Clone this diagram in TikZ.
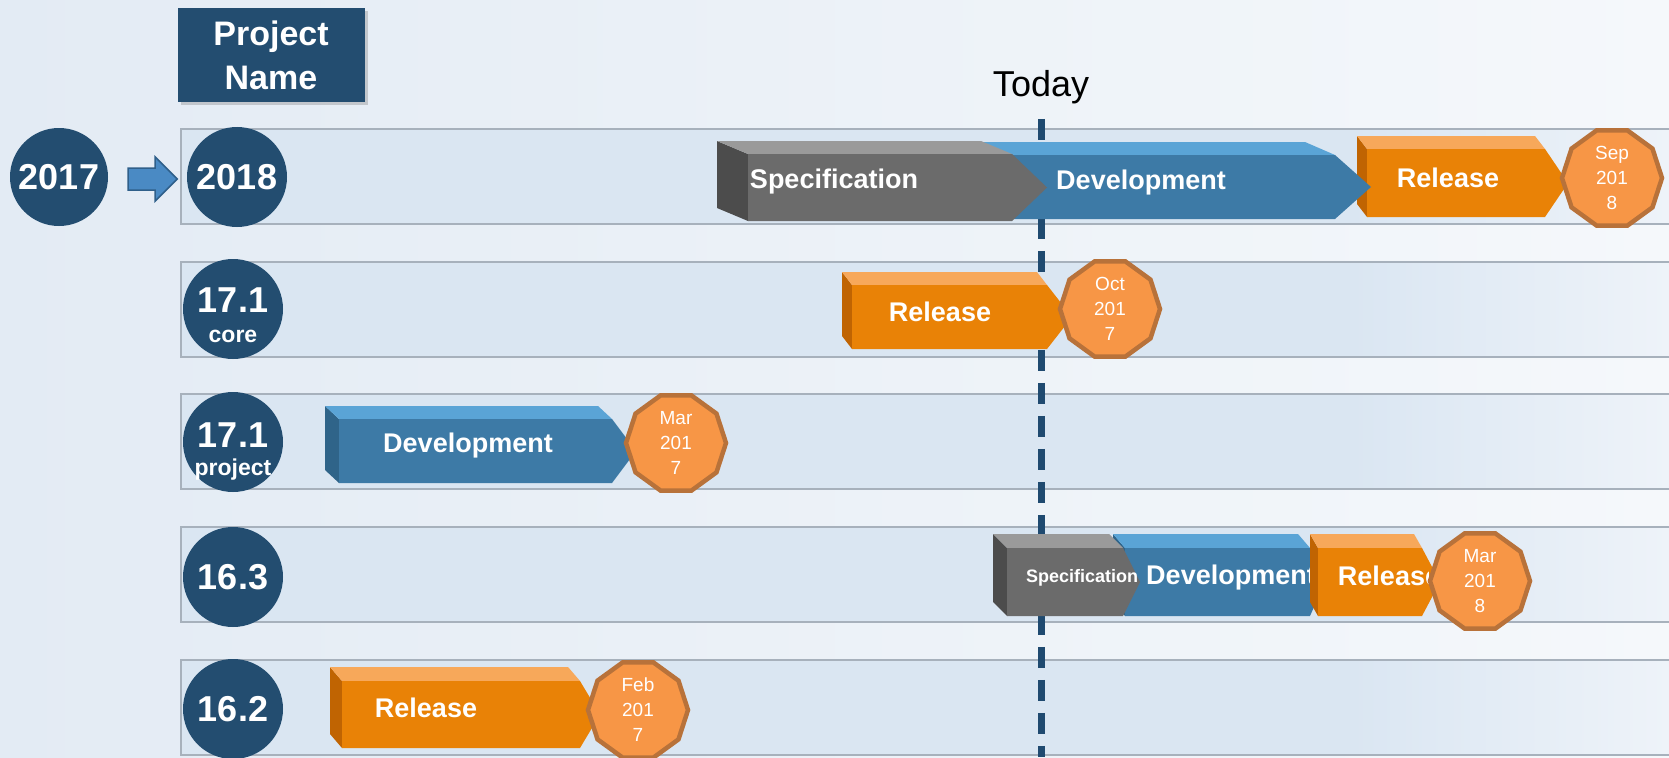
\documentclass[tikz,border=0pt]{standalone}
\usepackage{fontspec}
\setmainfont{Liberation Sans}
\usetikzlibrary{shapes.geometric, shadows, calc}

\definecolor{bgleft}{HTML}{E3EBF4}
\definecolor{bgright}{HTML}{F5F8FB}
\definecolor{bandfill}{HTML}{DAE6F2}
\definecolor{bandfade}{HTML}{EEF3F9}
\definecolor{bandedge}{HTML}{A7B1BC}
\definecolor{navy}{HTML}{234D70}
\definecolor{todayblue}{HTML}{1F4A70}
\definecolor{arrowfill}{HTML}{4A8AC4}
\definecolor{arrowedge}{HTML}{2F5F8A}
\definecolor{datefill}{HTML}{F79646}
\definecolor{dateedge}{HTML}{B8723A}
\definecolor{spectop}{HTML}{9A9A9A}
\definecolor{specfront}{HTML}{6B6B6B}
\definecolor{specside}{HTML}{4C4C4C}
\definecolor{devtop}{HTML}{5AA4D6}
\definecolor{devfront}{HTML}{3D7AA6}
\definecolor{devside}{HTML}{2F6489}
\definecolor{reltop}{HTML}{F7A85A}
\definecolor{relfront}{HTML}{E98206}
\definecolor{relside}{HTML}{C06402}

% 3D phase bar: colour, front left, point start, tip, top, bottom, dx, dy, name
\newcommand{\phasebar}[9]{%
  \fill[#1side] (#2-#7,#5-#8) -- (#2,#5) -- (#2,#6) -- (#2-#7,#6-#8) -- cycle;
  \fill[#1top] (#2-#7,#5-#8) -- (#3-#7,#5-#8) -- (#3,#5) -- (#2,#5) -- cycle;
  \fill[#1front] (#2,#5) -- (#3,#5) -- (#4,{(#5+#6)/2}) -- (#3,#6) -- (#2,#6) -- cycle;
  \coordinate (#9) at ({(#2+#3)/2},{(#5+#6)/2});
}

\begin{document}
\begin{tikzpicture}[x=1pt, y=-1pt,
    yearcirc/.style={circle, fill=navy, minimum size=100pt, inner sep=0pt, text=white,
      font=\bfseries\fontsize{36}{40}\selectfont},
    subtext/.style={inner sep=0pt, text=white, font=\bfseries\fontsize{23}{26}\selectfont},
    mainnum/.style={inner sep=0pt, text=white, font=\bfseries\fontsize{36}{40}\selectfont},
    duedate/.style={regular polygon, regular polygon sides=10, minimum size=100pt, inner sep=0pt,
      fill=datefill, draw=dateedge, line width=4.5pt, text=white, align=center,
      font=\fontsize{19}{25}\selectfont},
    barlabel/.style={inner sep=0pt, text=white, font=\bfseries\fontsize{27}{30}\selectfont},
    todayline/.style={todayblue, line width=7pt, dash pattern=on 21pt off 12pt},
    yeararrow/.style={fill=arrowfill, draw=arrowedge, line width=1.5pt, line join=miter}]
    % Background
    \clip (0,0) rectangle (1669,757);
    \shade[left color=bgleft, right color=bgright] (0,0) rectangle (1669,757);
    % Rows
    \foreach \y in {129,262,394,527,660} {
      \fill[bandfill] (181,\y) rectangle (1350,\y+95);
      \shade[left color=bandfill, right color=bandfade] (1350,\y) rectangle (1669,\y+95);
      \draw[bandedge, line width=1.5pt] (1669,\y) -- (181,\y) -- (181,\y+95) -- (1669,\y+95);
    }
    % Today marker
    \node[inner sep=0pt, font=\fontsize{36}{40}\selectfont] (today) at (1041,87) {Today};
    \coordinate (todayend) at (1040,757);
    \draw[todayline] ([yshift=-15pt]today.south) -- (today.south |- todayend);
    % Header
    \node[fill=navy, text=white, align=center, inner sep=0pt, minimum width=187pt, minimum height=94pt,
      font=\bfseries\fontsize{34}{44}\selectfont,
      drop shadow={opacity=0.35, shadow xshift=3pt, shadow yshift=-3pt}] (pname) at (271,55) {Project\\Name};
    % Year circles
    \node[yearcirc, minimum size=98pt] (y2017) at (59,177) {2017};
    \node[yearcirc] (y2018) at (237,177) {2018};
    \coordinate (shiftstart) at ($(y2017.east)+(20,2)$);
    \draw[yeararrow] (shiftstart) -- ++(0,-11) -- ++(27,0) -- ++(0,-11) -- ++(22,22)
      -- ++(-22,22) -- ++(0,-11) -- ++(-27,0) -- cycle;
    \node[yearcirc] (v171c) at (233,309) {};
    \node[mainnum] (v171cnum) at ($(v171c)+(0,-9)$) {17.1};
    \node[subtext] (v171ctag) at ($(v171c)+(0,27)$) {core};
    \node[yearcirc] (v171p) at (233,442) {};
    \node[mainnum] (v171pnum) at ($(v171p)+(0,-7)$) {17.1};
    \node[subtext] (v171ptag) at ($(v171p)+(0,28)$) {project};
    \node[yearcirc] (v163) at (233,577) {16.3};
    \node[yearcirc] (v162) at (233,709) {16.2};
    % Row 2018
    \phasebar{rel}{1367}{1545}{1568}{149}{217}{10}{13}{r1rel}
    \node[barlabel] (r1reltext) at (1448,178) {Release};
    \phasebar{dev}{995}{1335}{1371}{155}{219}{30}{13}{r1dev}
    \node[barlabel] (r1devtext) at (1141,183) {Development};
    \phasebar{spec}{748}{1012}{1047}{154}{221}{31}{13}{r1spec}
    \node[barlabel] (r1spectext) at (834,182) {Specification};
    \node[duedate] (due1) at (1612,178) {Sep\\201\\8};
    % Row 17.1 core
    \phasebar{rel}{852}{1047}{1072}{285}{349}{10}{13}{r2rel}
    \node[barlabel] (r2reltext) at (940,312) {Release};
    \node[duedate] (due2) at (1110,309) {Oct\\201\\7};
    % Row 17.1 project
    \phasebar{dev}{339}{612}{636}{419}{483}{14}{13}{r3dev}
    \node[barlabel] (r3devtext) at (468,446) {Development};
    \node[duedate] (due3) at (676,443) {Mar\\201\\7};
    % Row 16.3
    \phasebar{dev}{1125}{1310}{1325}{548}{616}{12}{14}{r4dev}
    \node[barlabel] (r4devtext) at (1231,578) {Development};
    \phasebar{spec}{1007}{1123}{1140}{548}{616}{14}{14}{r4spec}
    \node[barlabel, font=\bfseries\fontsize{18}{20}\selectfont] (r4spectext) at (1082,578) {Specification};
    \phasebar{rel}{1318}{1422}{1440}{548}{616}{8}{14}{r4rel}
    \begin{scope}
      \clip (1311,530) rectangle (1428,620);
      \node[barlabel] (r4reltext) at (1389,576) {Release};
    \end{scope}
    \node[duedate] (due4) at (1480,581) {Mar\\201\\8};
    % Row 16.2
    \phasebar{rel}{342}{580}{600}{681}{748}{12}{14}{r5rel}
    \node[barlabel] (r5reltext) at (426,708) {Release};
    \node[duedate] (due5) at (638,710) {Feb\\201\\7};
\end{tikzpicture}
\end{document}
